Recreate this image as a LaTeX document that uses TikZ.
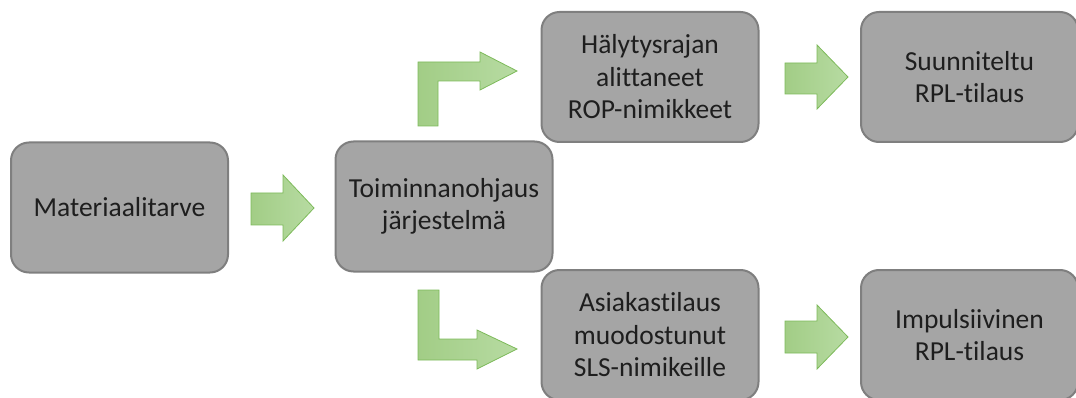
\documentclass[tikz,border=0pt]{standalone}
\usepackage{fontspec}
\setmainfont[Ligatures=NoCommon]{Carlito}
\begin{document}
\begin{tikzpicture}[x=1pt,y=-1pt,
  box/.style={draw=boxborder, fill=boxfill, line width=2pt, rounded corners=18pt,
    minimum width=217pt, minimum height=130pt, align=center, text=txt,
    font=\fontsize{27.5}{32.5}\selectfont, inner sep=0pt},
  blockarrow/.style={draw=arrowborder, line width=0.8pt, left color=arrowleft, right color=arrowright}]
\definecolor{boxfill}{HTML}{A5A5A5}
\definecolor{boxborder}{HTML}{7F7F7F}
\definecolor{txt}{HTML}{1E1E1E}
\definecolor{arrowborder}{HTML}{7DBA5A}
\definecolor{arrowleft}{HTML}{A2CD86}
\definecolor{arrowright}{HTML}{B7DBA2}
\useasboundingbox (0,0) rectangle (1076,398);
\node[box] (mat) at (119.5,207.5) {Materiaalitarve};
\node[box] (toi) at (444,206.5) {Toiminnanohjaus\\järjestelmä};
\node[box] (hal) at (650,77) {Hälytysrajan\\alittaneet\\ROP-nimikkeet};
\node[box] (suu) at (969.5,77) {Suunniteltu\\RPL-tilaus};
\node[box] (asi) at (650,335) {Asiakastilaus\\muodostunut\\SLS-nimikeille};
\node[box] (imp) at (969.5,335) {Impulsiivinen\\RPL-tilaus};
% straight block arrows
\draw[blockarrow] (251,193) -- (283,193) -- (283,175) -- (314,208) -- (283,241) -- (283,225) -- (251,225) -- cycle;
\draw[blockarrow] (785,63) -- (817,63) -- (817,45) -- (848,77) -- (817,109) -- (817,94) -- (785,94) -- cycle;
\draw[blockarrow] (785,321) -- (817,321) -- (817,305) -- (848,337) -- (817,369) -- (817,353) -- (785,353) -- cycle;
% bent block arrows
\draw[blockarrow] (418,126) -- (418,62) -- (480,62) -- (480,52) -- (517,71) -- (480,90) -- (480,81) -- (438,81) -- (438,126) -- cycle;
\draw[blockarrow] (418,290) -- (439,290) -- (439,339) -- (477,339) -- (477,330) -- (517,349) -- (477,369) -- (477,360) -- (418,360) -- cycle;
\end{tikzpicture}
\end{document}
